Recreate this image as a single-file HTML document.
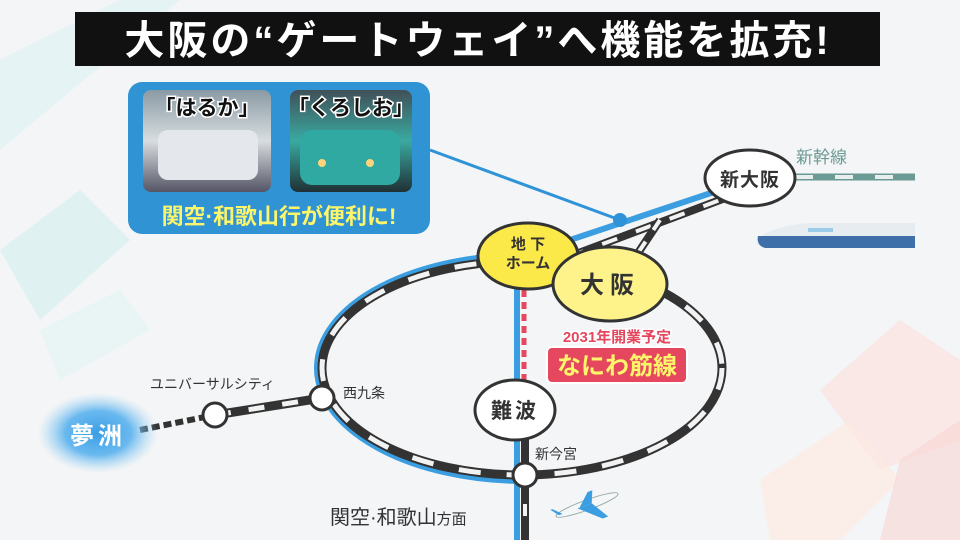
<!DOCTYPE html>
<html><head><meta charset="utf-8"><style>
body{margin:0;width:960px;height:540px;overflow:hidden;background:#f4f6f7;font-family:"Liberation Sans","Noto Sans CJK JP",sans-serif}
</style></head><body>
<svg width="960" height="540" viewBox="0 0 960 540" xmlns="http://www.w3.org/2000/svg" style="position:absolute;left:0;top:0">
<defs>
<radialGradient id="glow" cx="50%" cy="50%" r="50%"><stop offset="0" stop-color="#3a9ee6"/><stop offset="0.55" stop-color="#5ab2ee" stop-opacity="0.9"/><stop offset="1" stop-color="#9fd3f5" stop-opacity="0"/></radialGradient>
<linearGradient id="tr1" x1="0" y1="0" x2="0" y2="1"><stop offset="0" stop-color="#8a9aa4"/><stop offset="0.5" stop-color="#d8dde0"/><stop offset="1" stop-color="#556"/></linearGradient>
<linearGradient id="tr2" x1="0" y1="0" x2="0" y2="1"><stop offset="0" stop-color="#405058"/><stop offset="0.5" stop-color="#3aa9a0"/><stop offset="1" stop-color="#203035"/></linearGradient>
</defs>
<rect width="960" height="540" fill="#f3f5f6"/>
<polygon points="0,60 120,0 180,0 0,150" fill="#dff2f3" opacity="0.7"/>
<polygon points="0,250 80,190 130,240 40,320" fill="#d3eef0" opacity="0.6"/>
<polygon points="40,330 120,290 150,330 60,380" fill="#e3f4f5" opacity="0.6"/>
<polygon points="820,390 900,320 960,360 960,440 880,470" fill="#fbe2df" opacity="0.7"/>
<polygon points="760,480 850,420 900,480 840,540 770,540" fill="#fde9e2" opacity="0.7"/>
<polygon points="900,460 960,420 960,540 880,540" fill="#f9d5d2" opacity="0.6"/>
<rect x="75" y="12" width="805" height="54" fill="#111"/>
<text x="478" y="54" font-size="40" font-weight="bold" fill="#fff" text-anchor="middle" letter-spacing="3">大阪の“ゲートウェイ”へ機能を拡充!</text>
<line x1="795" y1="177" x2="915" y2="177" stroke="#6c9a94" stroke-width="7"/>
<line x1="795" y1="177" x2="915" y2="177" stroke="#e8eeee" stroke-width="4" stroke-dasharray="18 22"/>
<text x="796" y="163" font-size="17" fill="#6c9a94">新幹線</text>
<path d="M757,240 Q770,226 810,223 L915,223 L915,248 L765,248 Q755,246 757,240Z" fill="#e6ecf0"/>
<path d="M758,236 L915,236 L915,248 L765,248 Q756,245 758,236 Z" fill="#3f6fa8"/>
<rect x="808" y="228" width="25" height="4" fill="#9ccbe8"/>
<line x1="430" y1="150" x2="620" y2="220" stroke="#2e93d8" stroke-width="3"/>
<line x1="750" y1="180" x2="540" y2="250" stroke="#3a9ee0" stroke-width="6"/>
<path d="M528,255 A208,113 0 0 0 522,481" fill="none" stroke="#3a9ee0" stroke-width="6"/>
<line x1="517" y1="285" x2="517" y2="540" stroke="#3a9ee0" stroke-width="6"/>
<line x1="752" y1="188" x2="560" y2="260" stroke="#333" stroke-width="8"/>
<line x1="752" y1="188" x2="560" y2="260" stroke="#f2f2f2" stroke-width="4" stroke-dasharray="16 20"/>
<line x1="660" y1="220" x2="630" y2="265" stroke="#333" stroke-width="8"/>
<line x1="660" y1="220" x2="630" y2="265" stroke="#f2f2f2" stroke-width="4" stroke-dasharray="12 14"/>
<circle cx="620" cy="220" r="7" fill="#2e93d8"/>
<ellipse cx="522" cy="368" rx="200" ry="107" fill="none" stroke="#333" stroke-width="9"/>
<ellipse cx="522" cy="368" rx="200" ry="107" fill="none" stroke="#f2f2f2" stroke-width="5" stroke-dasharray="22 26"/>
<line x1="525" y1="420" x2="525" y2="540" stroke="#333" stroke-width="8"/>
<line x1="525" y1="420" x2="525" y2="540" stroke="#f2f2f2" stroke-width="4" stroke-dasharray="12 30"/>
<line x1="524" y1="290" x2="524" y2="385" stroke="#e5475f" stroke-width="5" stroke-dasharray="7 5"/>
<line x1="215" y1="415" x2="322" y2="398" stroke="#333" stroke-width="9"/>
<line x1="215" y1="415" x2="322" y2="398" stroke="#f2f2f2" stroke-width="5" stroke-dasharray="16 18"/>
<line x1="140" y1="430" x2="210" y2="416" stroke="#333" stroke-width="6" stroke-dasharray="8 4"/>
<ellipse cx="98" cy="433" rx="60" ry="40" fill="url(#glow)"/>
<text x="98" y="444" font-size="24" fill="#fff" text-anchor="middle" font-weight="bold" letter-spacing="4">夢洲</text>
<circle cx="215" cy="415" r="12" fill="#fff" stroke="#333" stroke-width="3"/>
<circle cx="322" cy="398" r="12" fill="#fff" stroke="#333" stroke-width="3"/>
<circle cx="525" cy="475" r="12" fill="#fff" stroke="#333" stroke-width="3"/>
<text x="150" y="389" font-size="14" fill="#333">ユニバーサルシティ</text>
<text x="343" y="398" font-size="14" fill="#333">西九条</text>
<text x="535" y="459" font-size="14" fill="#333">新今宮</text>
<text x="330" y="524" font-size="20" fill="#333">関空·和歌山<tspan font-size="15">方面</tspan></text>
<g transform="translate(587,505) rotate(-20)">
<ellipse cx="0" cy="0" rx="33" ry="5" fill="#f4f6f8" stroke="#9aa" stroke-width="1"/>
<polygon points="5,0 -10,0 10,18 16,18" fill="#3a9ee0"/>
<polygon points="5,0 -8,0 5,-12 10,-12" fill="#3a9ee0"/>
<polygon points="30,0 26,0 34,-8 36,-8" fill="#3a9ee0" transform="scale(-1,1)"/>
</g>
<ellipse cx="750" cy="178" rx="45" ry="28" fill="#fff" stroke="#333" stroke-width="3"/>
<text x="750" y="186" font-size="19" font-weight="bold" fill="#333" text-anchor="middle" letter-spacing="1">新大阪</text>
<ellipse cx="528" cy="256" rx="50" ry="33" fill="#fbe94a" stroke="#333" stroke-width="3"/>
<text x="528" y="249" font-size="15" font-weight="bold" fill="#333" text-anchor="middle">地 下</text>
<text x="528" y="268" font-size="15" font-weight="bold" fill="#333" text-anchor="middle">ホーム</text>
<ellipse cx="610" cy="284" rx="57" ry="37" fill="#fdf38a" stroke="#333" stroke-width="3"/>
<text x="610" y="293" font-size="24" font-weight="bold" fill="#333" text-anchor="middle" letter-spacing="6">大阪</text>
<ellipse cx="515" cy="410" rx="40" ry="30" fill="#fff" stroke="#333" stroke-width="3"/>
<text x="515" y="418" font-size="21" font-weight="bold" fill="#333" text-anchor="middle" letter-spacing="3">難波</text>
<text x="617" y="342" font-size="15" font-weight="bold" fill="#e5475f" stroke="#fff" stroke-width="3" paint-order="stroke" text-anchor="middle">2031年開業予定</text>
<rect x="547" y="347" width="140" height="36" rx="5" fill="#e5475f" stroke="#fff" stroke-width="2"/>
<text x="617" y="374" font-size="24" font-weight="bold" fill="#fdf56a" text-anchor="middle">なにわ筋線</text>
<rect x="128" y="82" width="302" height="152" rx="14" fill="#2f93d4"/>
<rect x="143" y="90" width="128" height="102" rx="8" fill="url(#tr1)"/>
<rect x="290" y="90" width="122" height="102" rx="8" fill="url(#tr2)"/>
<rect x="158" y="130" width="100" height="50" rx="10" fill="#e4e8ec"/>
<rect x="300" y="130" width="100" height="55" rx="12" fill="#2fa9a2"/>
<circle cx="322" cy="163" r="4" fill="#ffd37a"/><circle cx="370" cy="163" r="4" fill="#ffd37a"/>
<text x="207" y="115" font-size="21" font-weight="bold" fill="#111" stroke="#fff" stroke-width="3" paint-order="stroke" text-anchor="middle">「はるか」</text>
<text x="351" y="115" font-size="21" font-weight="bold" fill="#111" stroke="#fff" stroke-width="3" paint-order="stroke" text-anchor="middle">「くろしお」</text>
<text x="279" y="224" font-size="22" font-weight="bold" fill="#fdf56a" text-anchor="middle">関空·和歌山行が便利に!</text>
</svg>
</body></html>
